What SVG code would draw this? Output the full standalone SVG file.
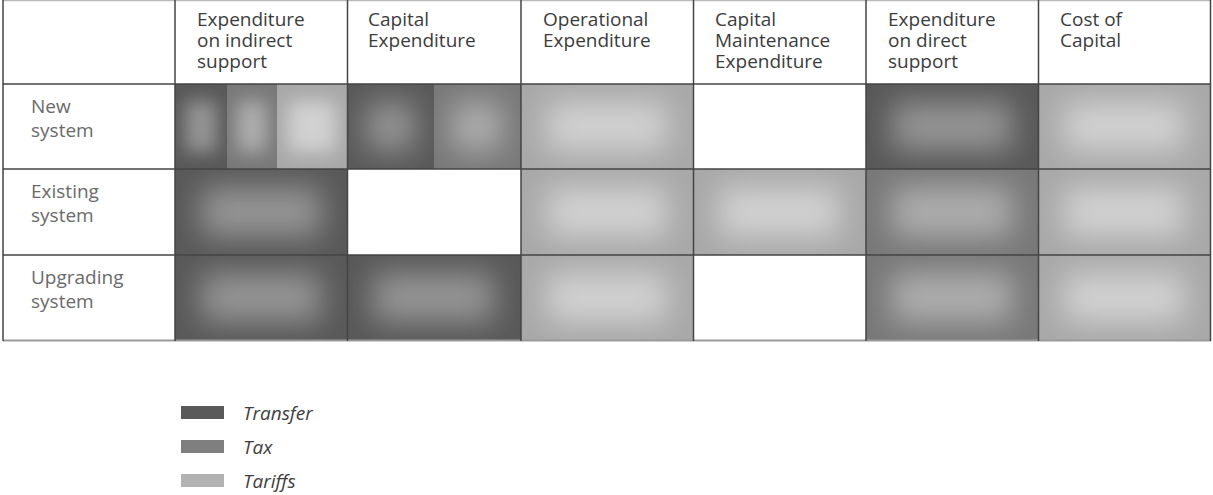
<svg xmlns="http://www.w3.org/2000/svg" width="1213" height="495" viewBox="0 0 1213 495">
<style>
.hd{font-family:"Open Sans","Noto Sans",sans-serif;font-size:19px;fill:#3c3c3c}
.rl{font-family:"Open Sans","Noto Sans",sans-serif;font-size:19px;fill:#6a6a6a}
.lg{font-family:"Open Sans","Noto Sans",sans-serif;font-size:19px;font-style:italic;fill:#404040}
.grid{stroke:#444444;stroke-width:1.5;fill:none}
.eT{fill:#585858}.cT{fill:#949494}
.eX{fill:#787878}.cX{fill:#adadad}
.eF{fill:#a8a8a8}.cF{fill:#d1d1d1}
.soft{filter:url(#soft)}
.soft2{filter:url(#soft2)}
.cell{clip-path:url(#cellClip)}
</style>
<defs>
<clipPath id="cellClip" clipPathUnits="objectBoundingBox"><rect x="0" y="0" width="1" height="1"/></clipPath>
<filter id="soft" x="-80%" y="-80%" width="260%" height="260%"><feGaussianBlur stdDeviation="15"/></filter>
<filter id="soft2" x="-100%" y="-80%" width="300%" height="260%"><feGaussianBlur stdDeviation="9"/></filter>
</defs>
<rect x="0" y="0" width="1213" height="495" fill="#ffffff"/>

<g id="headers">
<g id="h-indirect"><text class="hd" x="197" y="26">Expenditure</text><text class="hd" x="197" y="47">on indirect</text><text class="hd" x="197" y="68">support</text></g>
<g id="h-capex"><text class="hd" x="368" y="26">Capital</text><text class="hd" x="368" y="47">Expenditure</text></g>
<g id="h-opex"><text class="hd" x="543" y="26">Operational</text><text class="hd" x="543" y="47">Expenditure</text></g>
<g id="h-capmaint"><text class="hd" x="715" y="26">Capital</text><text class="hd" x="715" y="47">Maintenance</text><text class="hd" x="715" y="68">Expenditure</text></g>
<g id="h-direct"><text class="hd" x="888" y="26">Expenditure</text><text class="hd" x="888" y="47">on direct</text><text class="hd" x="888" y="68">support</text></g>
<g id="h-coc"><text class="hd" x="1060" y="26">Cost of</text><text class="hd" x="1060" y="47">Capital</text></g>
</g>

<g id="rows">
<g id="r-new"><text class="rl" x="31" y="113">New</text><text class="rl" x="31" y="137">system</text></g>
<g id="r-existing"><text class="rl" x="31" y="198">Existing</text><text class="rl" x="31" y="222">system</text></g>
<g id="r-upgrading"><text class="rl" x="31" y="284">Upgrading</text><text class="rl" x="31" y="308">system</text></g>
</g>

<g id="cells">
<g id="c-new-indirect">
<g class="cell"><rect class="eT" x="175" y="84" width="52" height="85"/><rect class="cT soft2" x="185" y="101" width="32" height="51"/></g>
<g class="cell"><rect class="eX" x="227" y="84" width="50" height="85"/><rect class="cX soft2" x="237" y="101" width="30" height="51"/></g>
<g class="cell"><rect class="eF" x="277" y="84" width="70.5" height="85"/><rect class="cF soft2" x="288" y="101" width="48" height="51"/></g>
</g>
<g id="c-new-capex">
<g class="cell"><rect class="eT" x="347.5" y="84" width="86.5" height="85"/><rect class="cT soft" x="366" y="102" width="49" height="49"/></g>
<g class="cell"><rect class="eX" x="434" y="84" width="87" height="85"/><rect class="cX soft" x="452" y="102" width="50" height="49"/></g>
</g>
<g id="c-new-opex" class="cell"><rect class="eF" x="521" y="84" width="172.5" height="85"/><rect class="cF soft" x="547" y="102" width="120" height="49"/></g>
<g id="c-new-direct" class="cell"><rect class="eT" x="866" y="84" width="172.5" height="85"/><rect class="cT soft" x="892" y="102" width="120" height="49"/></g>
<g id="c-new-coc" class="cell"><rect class="eF" x="1038.5" y="84" width="172" height="85"/><rect class="cF soft" x="1064" y="102" width="120" height="49"/></g>

<g id="c-ex-indirect" class="cell"><rect class="eT" x="175" y="169" width="172.5" height="86"/><rect class="cT soft" x="201" y="187" width="120" height="50"/></g>
<g id="c-ex-opex" class="cell"><rect class="eF" x="521" y="169" width="172.5" height="86"/><rect class="cF soft" x="547" y="187" width="120" height="50"/></g>
<g id="c-ex-capmaint" class="cell"><rect class="eF" x="693.5" y="169" width="172.5" height="86"/><rect class="cF soft" x="719" y="187" width="120" height="50"/></g>
<g id="c-ex-direct" class="cell"><rect class="eX" x="866" y="169" width="172.5" height="86"/><rect class="cX soft" x="892" y="187" width="120" height="50"/></g>
<g id="c-ex-coc" class="cell"><rect class="eF" x="1038.5" y="169" width="172" height="86"/><rect class="cF soft" x="1064" y="187" width="120" height="50"/></g>

<g id="c-up-indirect" class="cell"><rect class="eT" x="175" y="255" width="172.5" height="85"/><rect class="cT soft" x="201" y="273" width="120" height="49"/></g>
<g id="c-up-capex" class="cell"><rect class="eT" x="347.5" y="255" width="173.5" height="85"/><rect class="cT soft" x="373" y="273" width="121" height="49"/></g>
<g id="c-up-opex" class="cell"><rect class="eF" x="521" y="255" width="172.5" height="85"/><rect class="cF soft" x="547" y="273" width="120" height="49"/></g>
<g id="c-up-direct" class="cell"><rect class="eX" x="866" y="255" width="172.5" height="85"/><rect class="cX soft" x="892" y="273" width="120" height="49"/></g>
<g id="c-up-coc" class="cell"><rect class="eF" x="1038.5" y="255" width="172" height="85"/><rect class="cF soft" x="1064" y="273" width="120" height="49"/></g>
</g>

<g id="grid">
<line x1="3" y1="0.5" x2="1211" y2="0.5" stroke="#bbbbbb" stroke-width="1.5"/>
<line x1="3" y1="340.5" x2="1211" y2="340.5" stroke="#9a9a9a" stroke-width="2"/>
<path class="grid" d="M3,0V341M175,0V341M347.5,0V341M521,0V341M693.5,0V341M866,0V341M1038.5,0V341M1210.5,0V341"/>
<path class="grid" d="M3,84H1211M3,169H1211M3,255H1211"/>
</g>

<g id="legend">
<g id="lg-transfer"><rect x="181" y="406" width="43" height="13" fill="#595959"/><text class="lg" x="243" y="420">Transfer</text></g>
<g id="lg-tax"><rect x="181" y="440" width="43" height="13" fill="#7f7f7f"/><text class="lg" x="243" y="454">Tax</text></g>
<g id="lg-tariffs"><rect x="181" y="474" width="43" height="13" fill="#b2b2b2"/><text class="lg" x="243" y="488">Tariffs</text></g>
</g>
</svg>
